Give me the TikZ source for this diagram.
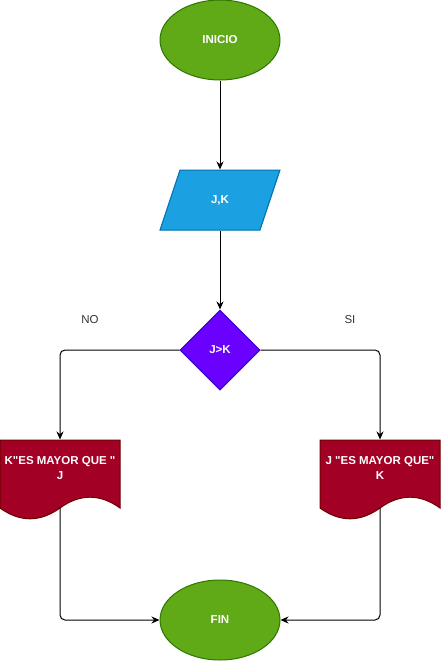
\documentclass[tikz,border=0pt]{standalone}
\usepackage{fontspec}
\setmainfont{Liberation Sans}[Ligatures=TeXOff]
\usepackage{tikz}
\usetikzlibrary{shapes.geometric, arrows.meta}
\definecolor{colorG}{HTML}{60A917}
\definecolor{colorGd}{HTML}{2D7600}
\definecolor{colorB}{HTML}{1BA1E2}
\definecolor{colorBd}{HTML}{006EAF}
\definecolor{colorV}{HTML}{6A00FF}
\definecolor{colorVd}{HTML}{3700CC}
\definecolor{colorR}{HTML}{A20025}
\definecolor{colorRd}{HTML}{6F0000}
\definecolor{colorT}{HTML}{333333}

\begin{document}
\begin{tikzpicture}[x=1pt, y=-1pt, line width=1pt,
        texto/.style={text=white, font=\fontsize{11.5}{15}\selectfont\bfseries, align=center, inner sep=0pt},
        terminal/.style={texto, ellipse, fill=colorG, draw=colorGd, minimum width=120pt, minimum height=80pt},
        decision/.style={texto, diamond, fill=colorV, draw=colorVd, minimum width=80pt, minimum height=80pt},
        caja/.style={texto, minimum width=120pt, minimum height=60pt},
        etiqueta/.style={text=colorT, font=\fontsize{11.5}{15}\selectfont},
        flecha/.style={-{Stealth[length=8pt,width=7pt]}, rounded corners=5pt}]
        \useasboundingbox (0,0) rectangle (441,661);

        \node[terminal] (inicio) at (220,40) {INICIO};

        \filldraw[fill=colorB, draw=colorBd] (180,170) -- (280,170) -- (260,230) -- (160,230) -- cycle;
        \node[caja] (jk) at (220,200) {J,K};

        \node[decision] (dec) at (220,350) {J>K};
        \node[etiqueta] (lblno) at (90,320) {NO};
        \node[etiqueta] (lblsi) at (350,320) {SI};

        \filldraw[fill=colorR, draw=colorRd] (0,440) -- (120,440) -- (120,508) .. controls (100,493.6) and (80,493.6) .. (60,508) .. controls (40,522.4) and (20,522.4) .. (0,508) -- cycle;
        \node[caja, minimum height=56pt] (docno) at (60,468) {K"ES MAYOR QUE "\\J};
        \coordinate (noout) at (60,508);

        \begin{scope}[xshift=320pt]
            \filldraw[fill=colorR, draw=colorRd] (0,440) -- (120,440) -- (120,508) .. controls (100,493.6) and (80,493.6) .. (60,508) .. controls (40,522.4) and (20,522.4) .. (0,508) -- cycle;
            \node[caja, minimum height=56pt] (docsi) at (60,468) {J "ES MAYOR QUE"\\K};
            \coordinate (siout) at (60,508);
        \end{scope}

        \node[terminal] (fin) at (220,620) {FIN};

        \draw[flecha] (inicio) -- (jk);
        \draw[flecha] (jk) -- (dec);
        \draw[flecha] (dec.west) -| (docno.north);
        \draw[flecha] (dec.east) -| (docsi.north);
        \draw[flecha] (noout) |- (fin.west);
        \draw[flecha] (siout) |- (fin.east);
    \end{tikzpicture}
\end{document}
